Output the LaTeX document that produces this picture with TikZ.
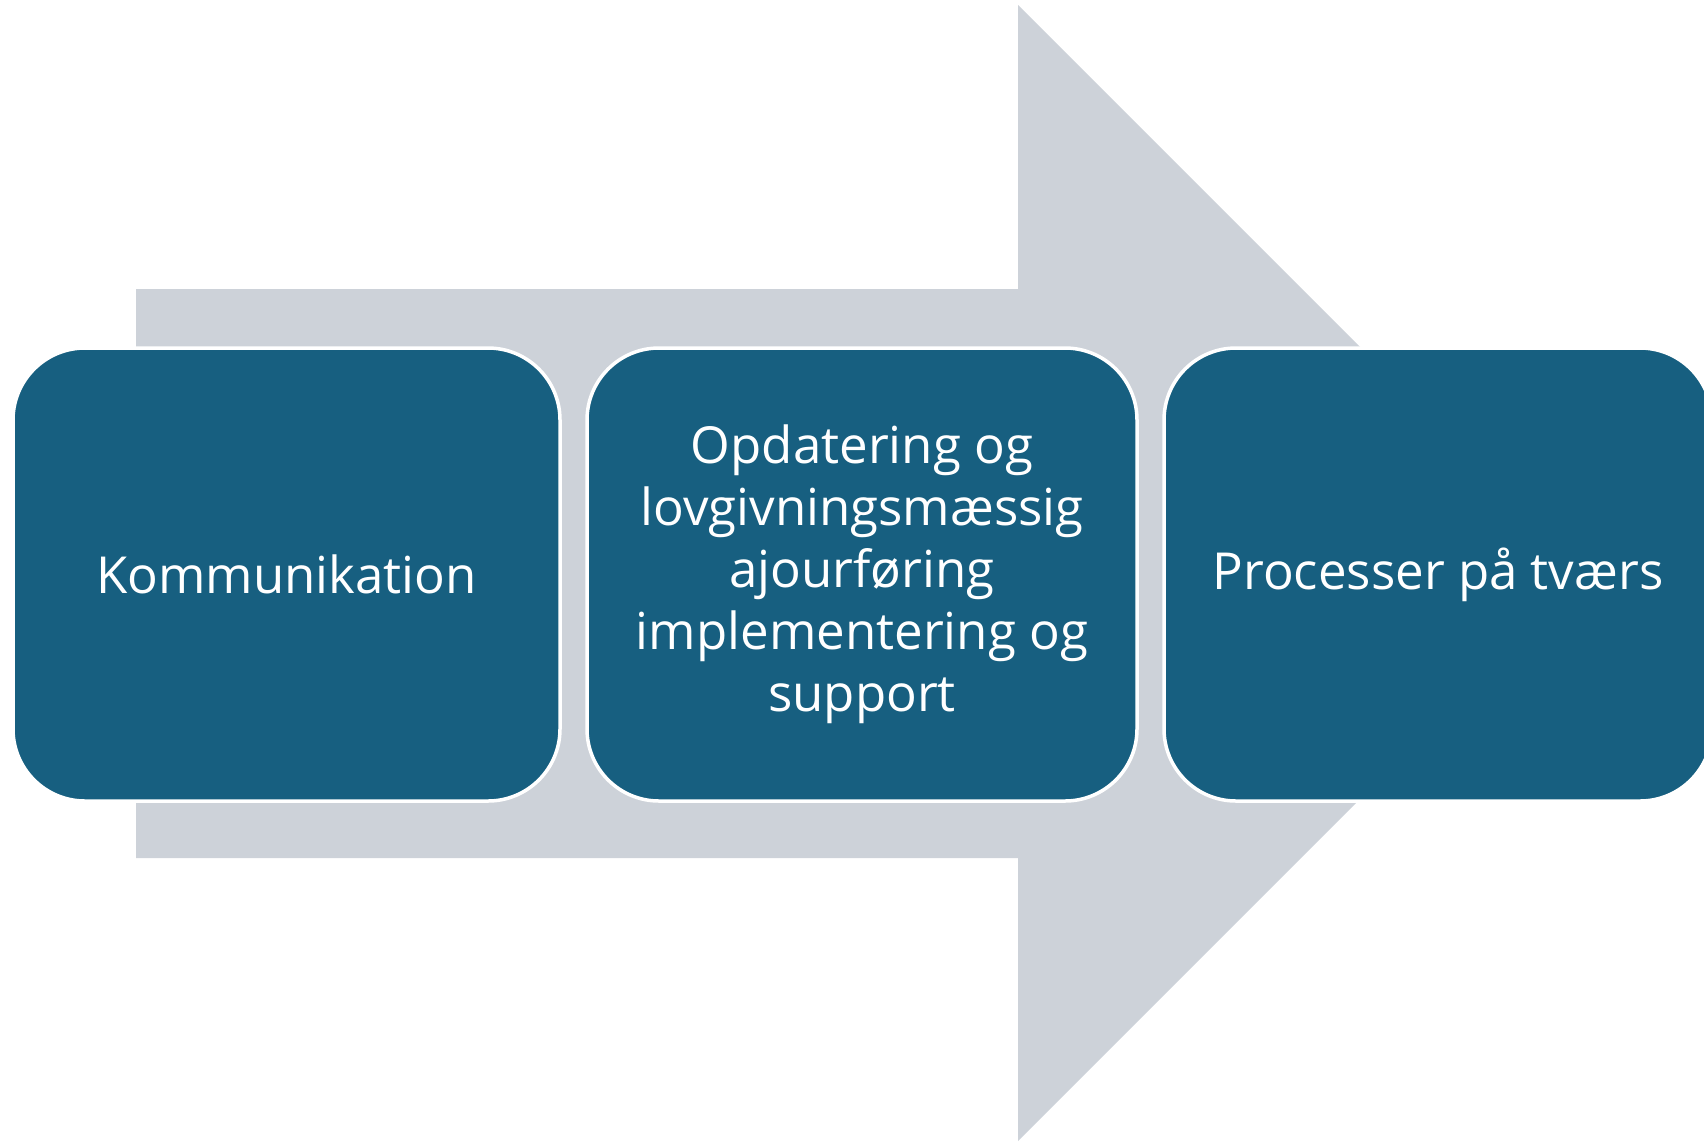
\documentclass[tikz,border=0pt]{standalone}
\usepackage{fontspec}
\setmainfont{Open Sans}
\definecolor{boxblue}{HTML}{175F80}
\definecolor{arrowgrey}{HTML}{CDD2D9}
\begin{document}
\begin{tikzpicture}[x=1pt,y=-1pt,
  stage/.style={draw=white, line width=3.5pt, fill=boxblue, rounded corners=72pt,
    minimum width=547pt, minimum height=453pt, inner sep=0pt, text=white,
    align=center,
    font=\fontsize{51}{62}\selectfont}]
\useasboundingbox (0,0) rectangle (1704,1141);
\fill[arrowgrey] (136,289) -- (1018,289) -- (1018,5) -- (1586,573) -- (1018,1141) -- (1018,858) -- (136,858) -- cycle;
\node[stage] (k) at (286.5,574.5) {Kommunikation};
\node[stage, minimum width=550pt] (o) at (862,574.5) {Opdatering og\\ lovgivningsmæssig\\ ajourføring\\ implementering og\\ support};
\node[stage, minimum width=548pt] (p) at (1438,574.5) {Processer på tværs};
\end{tikzpicture}
\end{document}
